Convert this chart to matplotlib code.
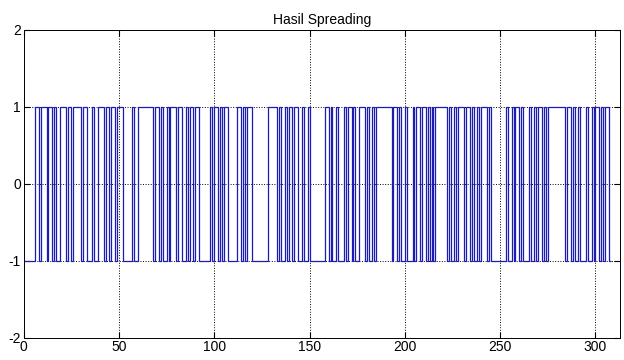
import numpy as np
import matplotlib.pyplot as plt

# run lengths of the spread sequence (chips), alternating levels starting at -1
runs = [6, 2, 1, 3, 1, 2, 1, 1, 2, 3, 1, 2, 1, 4, 1, 2, 3, 1, 2, 3, 1, 2, 1,
        2, 1, 3,
        5, 1, 2, 8,
        1, 2, 1, 1, 2, 1, 1, 3, 1, 2, 2, 1, 1, 2, 1, 2,
        6,
        1, 1, 2, 1, 1, 1, 2,
        5,
        2, 1, 1, 1, 3,
        8,
        5,
        1, 1, 2, 1, 1, 2, 1, 2, 2, 1, 2, 1,
        8,
        2, 1, 1, 2, 1, 3, 1, 1, 2, 1, 1, 2, 3, 1, 1, 2, 1, 1,
        8,
        1, 2, 1, 1, 2, 1, 3, 1, 1, 2, 1, 2, 1, 1, 1, 1, 1,
        6,
        1, 1, 2, 1, 1, 3, 1, 2, 1, 1, 2, 1, 1, 3, 1, 1,
        8,
        1, 2, 1, 1, 2, 1, 1, 3, 1, 2, 1, 1, 2, 1, 1, 1,
        9,
        1, 2, 1, 1, 2, 1, 3, 1, 2, 1, 1, 2, 1, 1, 1, 2, 1]
start_level = -1

levels = np.where(np.arange(len(runs)) % 2 == 0, start_level, -start_level)
chips = np.repeat(levels, runs)
edges = np.arange(len(chips) + 1)

xticks = [0, 50, 100, 150, 200, 250, 300]
yticks = [-2, -1, 0, 1, 2]

plt.rcParams['font.family'] = ['Liberation Sans', 'DejaVu Sans']
plt.rcParams['axes.unicode_minus'] = False

fig = plt.figure(figsize=(6.24, 3.6), dpi=100)
ax = fig.add_axes([0.038, 0.062, 0.956, 0.855])

ax.stairs(chips, edges, color='#1c1cb0', linewidth=0.9, baseline=None)

ax.set_xlim(0, 313)
ax.set_ylim(-2, 2)
ax.set_xticks(xticks)
ax.set_yticks(yticks)
ax.set_axisbelow(True)
ax.tick_params(direction='in', length=4, labelsize=10, pad=2,
               top=True, right=True)
ax.grid(True, color='k', linestyle=':', linewidth=0.7)
for s in ax.spines.values():
    s.set_linewidth(0.7)
ax.set_title('Hasil Spreading', fontsize=10, pad=4)

fig.savefig('out.png', dpi=100)
